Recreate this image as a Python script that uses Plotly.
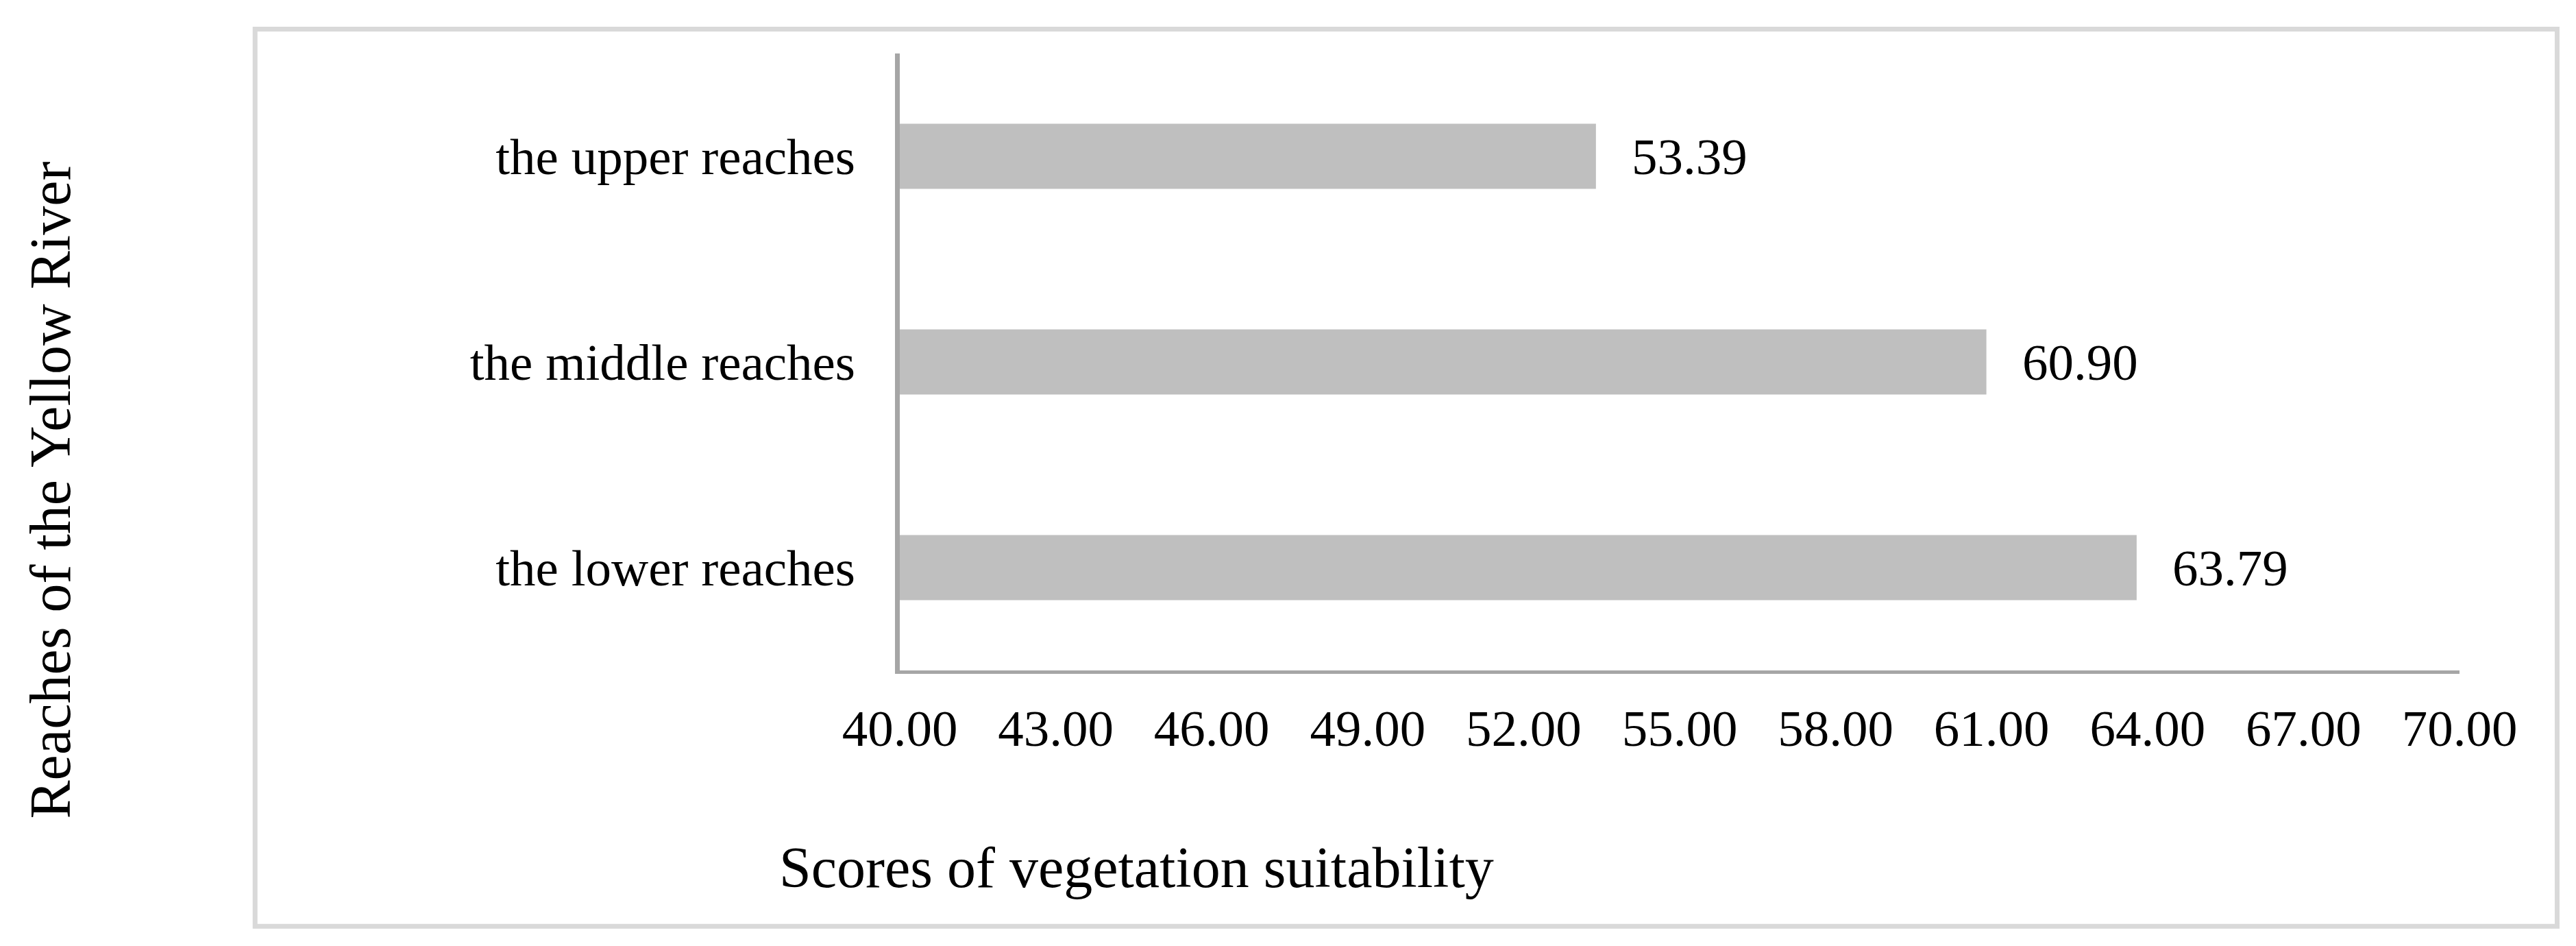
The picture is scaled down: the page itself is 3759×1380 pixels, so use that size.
import plotly.graph_objects as go

# ---- data ----
categories = ["the upper reaches", "the middle reaches", "the lower reaches"]
scores = [53.39, 60.90, 63.79]
x_ticks = [40, 43, 46, 49, 52, 55, 58, 61, 64, 67, 70]
x_title = "Scores of vegetation suitability"
y_title = "Reaches of the Yellow River"

# ---- layout geometry (pixels) ----
FW, FH = 3759, 1380
PL, PR, PT, PB = 1304.5, 3581, 70, 970.5
PW, PH = PR - PL, PB - PT
FONT = "Times New Roman, Liberation Serif, serif"
X_MIN = 40


def px_x(px):
    return (px - PL) / PW


def px_y(py):
    return (PB - py) / PH


fig = go.Figure()
fig.add_trace(go.Bar(
    y=categories,
    x=[v - X_MIN for v in scores],
    base=X_MIN,
    orientation="h",
    marker=dict(color="#bfbfbf", line=dict(width=0)),
    hoverinfo="skip",
))

for cat, v in zip(categories, scores):
    fig.add_annotation(
        x=v, y=cat, xref="x", yref="y",
        text=f"{v:.2f}", showarrow=False,
        xanchor="left", yanchor="middle", xshift=50,
        font=dict(family=FONT, size=75, color="black"),
    )

fig.add_annotation(
    x=px_x(1650), y=px_y(1258), xref="paper", yref="paper",
    text=x_title, showarrow=False, xanchor="center", yanchor="middle",
    font=dict(family=FONT, size=84, color="black"),
)
fig.add_annotation(
    x=px_x(65), y=px_y(707), xref="paper", yref="paper",
    text=y_title, showarrow=False, xanchor="center", yanchor="middle",
    textangle=-90,
    font=dict(family=FONT, size=84, color="black"),
)

# outer chart border
fig.add_shape(
    type="rect", xref="paper", yref="paper",
    x0=px_x(363.5), x1=px_x(3723.5), y0=px_y(1344), y1=px_y(34.5),
    line=dict(color="#d9d9d9", width=7), fillcolor="rgba(0,0,0,0)",
    layer="below",
)

fig.update_layout(
    width=FW, height=FH,
    margin=dict(l=PL, r=FW - PR, t=PT, b=FH - PB, pad=0),
    paper_bgcolor="white", plot_bgcolor="white",
    showlegend=False,
    bargap=0.683,
    font=dict(family=FONT, size=75, color="black"),
    xaxis=dict(
        range=[40, 70], tickvals=x_ticks,
        ticktext=[f"{t:.2f}" for t in x_ticks],
        showgrid=False, zeroline=False,
        showline=True, linecolor="#a6a6a6", linewidth=5,
        ticks="", ticklabelstandoff=15,
        tickfont=dict(family=FONT, size=75, color="black"),
    ),
    yaxis=dict(
        autorange="reversed", showgrid=False, zeroline=False,
        showline=True, linecolor="#a6a6a6", linewidth=7,
        ticks="", ticklabelstandoff=43,
        tickfont=dict(family=FONT, size=75, color="black"),
    ),
)

fig.write_html("out.html")
